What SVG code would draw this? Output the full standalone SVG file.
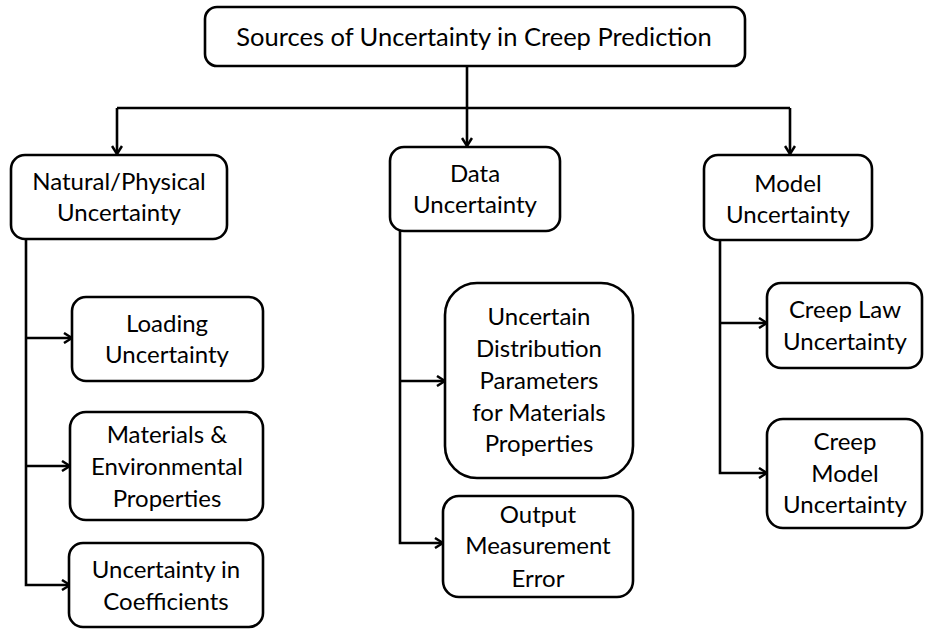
<svg xmlns="http://www.w3.org/2000/svg" width="925" height="633" viewBox="0 0 925 633">
<defs>
<marker id="ah" viewBox="0 0 10 12" refX="9" refY="6" markerWidth="10" markerHeight="12" markerUnits="userSpaceOnUse" orient="auto">
<path d="M1,1 L9,6 L1,11" fill="none" stroke="#000" stroke-width="2.5"/>
</marker>
<style>
.box{fill:#fff;stroke:#000;stroke-width:2.6}
.t{font-family:Lato,"Open Sans","Liberation Sans",sans-serif;font-size:24px;fill:#000;text-anchor:middle}
.top{font-size:25.5px}
.c{fill:none;stroke:#000;stroke-width:2.6}
</style>
</defs>
<rect width="925" height="633" fill="#fff"/>
<g id="connectors">
<path class="c" d="M467,66 V146" marker-end="url(#ah)"/>
<path class="c" d="M117,108 H790"/>
<path class="c" d="M117,108 V154" marker-end="url(#ah)"/>
<path class="c" d="M790,108 V154" marker-end="url(#ah)"/>
<path class="c" d="M26,239 V585 H70" marker-end="url(#ah)"/>
<path class="c" d="M26,338 H72" marker-end="url(#ah)"/>
<path class="c" d="M26,466 H70" marker-end="url(#ah)"/>
<path class="c" d="M400,231 V543 H443" marker-end="url(#ah)"/>
<path class="c" d="M400,381 H445" marker-end="url(#ah)"/>
<path class="c" d="M720,240 V473 H767" marker-end="url(#ah)"/>
<path class="c" d="M720,323 H767" marker-end="url(#ah)"/>
</g>
<g id="root">
<rect class="box" x="205" y="7" width="540" height="59" rx="12"/>
<text class="t top" x="474" y="46">Sources of Uncertainty in Creep Prediction</text>
</g>
<g id="natural">
<rect class="box" x="11" y="155" width="216" height="84" rx="14"/>
<text class="t" x="119" y="190">Natural/Physical</text>
<text class="t" x="119" y="221">Uncertainty</text>
</g>
<g id="data">
<rect class="box" x="390" y="147" width="170" height="84" rx="14"/>
<text class="t" x="475" y="182">Data</text>
<text class="t" x="475" y="213">Uncertainty</text>
</g>
<g id="model">
<rect class="box" x="704" y="155" width="168" height="85" rx="14"/>
<text class="t" x="788" y="192">Model</text>
<text class="t" x="788" y="223">Uncertainty</text>
</g>
<g id="loading">
<rect class="box" x="72" y="297" width="191" height="84" rx="14"/>
<text class="t" x="167" y="332">Loading</text>
<text class="t" x="167" y="363">Uncertainty</text>
</g>
<g id="materials">
<rect class="box" x="70" y="412" width="193" height="108" rx="16"/>
<text class="t" x="167" y="443">Materials &amp;</text>
<text class="t" x="167" y="475">Environmental</text>
<text class="t" x="167" y="507">Properties</text>
</g>
<g id="coefficients">
<rect class="box" x="69" y="543" width="194" height="84" rx="14"/>
<text class="t" x="166" y="578">Uncertainty in</text>
<text class="t" x="166" y="610">Coefficients</text>
</g>
<g id="distribution">
<rect class="box" x="445" y="283" width="188" height="195" rx="32"/>
<text class="t" x="539" y="325">Uncertain</text>
<text class="t" x="539" y="357">Distribution</text>
<text class="t" x="539" y="389">Parameters</text>
<text class="t" x="539" y="421">for Materials</text>
<text class="t" x="539" y="452">Properties</text>
</g>
<g id="output">
<rect class="box" x="443" y="496" width="190" height="101" rx="16"/>
<text class="t" x="538" y="523">Output</text>
<text class="t" x="538" y="554">Measurement</text>
<text class="t" x="538" y="587">Error</text>
</g>
<g id="creeplaw">
<rect class="box" x="767" y="283" width="155" height="85" rx="14"/>
<text class="t" x="845" y="318">Creep Law</text>
<text class="t" x="845" y="350">Uncertainty</text>
</g>
<g id="creepmodel">
<rect class="box" x="767" y="419" width="155" height="109" rx="16"/>
<text class="t" x="845" y="450">Creep</text>
<text class="t" x="845" y="482">Model</text>
<text class="t" x="845" y="513">Uncertainty</text>
</g>
</svg>
